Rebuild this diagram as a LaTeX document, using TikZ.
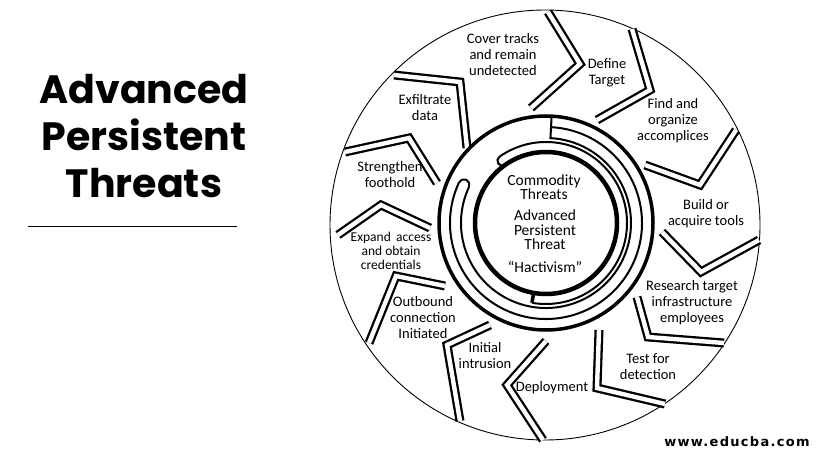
\documentclass[tikz,border=0pt]{standalone}
\usepackage{fontspec}
\setmainfont{Carlito}
\newfontfamily\titlefont{Poppins}
\newfontfamily\urlfont{DejaVu Sans}[LetterSpace=10]
\usetikzlibrary{calc}
\tikzset{
  divider/.style={double, double distance=4.4pt, line width=2.3pt, line join=miter},
  steplabel/.style={align=center, inner sep=0pt, font=\fontsize{14.5}{16}\selectfont},
  corelabel/.style={align=center, inner sep=0pt, font=\fontsize{15.5}{14.5}\selectfont},
  wall/.style={line width=2pt},
  heavy/.style={line width=4.5pt}
}
\begin{document}
\begin{tikzpicture}[x=1pt,y=-1pt]
\useasboundingbox (0,0) rectangle (826,457);
\fill[white] (0,0) rectangle (826,457);

% title
\node[align=center, inner sep=0pt, font=\titlefont\bfseries\fontsize{39.5}{47}\selectfont] (title) at (144,136) {Advanced\\Persistent\\Threats};
\coordinate (ul) at (28,226);
\coordinate (ur) at (237,226);
\draw[line width=1pt] (ul) -- (ur);

% outer circle
\coordinate (o) at (545,225);
\node[circle, draw, line width=0.9pt, minimum size=430pt, inner sep=0pt] (outer) at (o) {};

% dividers
\coordinate (d1o) at (548,12);  \coordinate (d1k) at (580,64);  \coordinate (d1i) at (531,108);
\coordinate (d2o) at (632,29);  \coordinate (d2k) at (650,90);  \coordinate (d2i) at (597,120);
\coordinate (d3o) at (736,130); \coordinate (d3k) at (700,185); \coordinate (d3i) at (645,165);
\coordinate (d4o) at (759,240); \coordinate (d4k) at (701,272); \coordinate (d4i) at (662,232);
\coordinate (d5o) at (724,343); \coordinate (d5k) at (648,337); \coordinate (d5i) at (637,297);
\coordinate (d6o) at (665,404); \coordinate (d6k) at (597,388); \coordinate (d6i) at (599,330);
\coordinate (d7o) at (543,440); \coordinate (d7k) at (507,385); \coordinate (d7i) at (546,341);
\coordinate (d8o) at (460,421); \coordinate (d8k) at (447,345); \coordinate (d8i) at (490,325);
\coordinate (d9o) at (369,343); \coordinate (d9k) at (396,276); \coordinate (d9i) at (445,286);
\coordinate (d10o) at (338,235); \coordinate (d10k) at (381,205); \coordinate (d10i) at (430,228);
\coordinate (d11o) at (345,152); \coordinate (d11k) at (409,138); \coordinate (d11i) at (437,183);
\coordinate (d12o) at (394,75);  \coordinate (d12k) at (460,82);  \coordinate (d12i) at (467,148);
\foreach \i in {1,...,12} {\draw[divider] (d\i o) -- (d\i k) -- (d\i i);}

% core rings
\coordinate (c) at (546,223);
\draw[heavy] (c) circle[radius=71];
\draw[line width=3.5pt] (c) circle[radius=107];
% bar A (inner band, clockwise from top-left to bottom)
\draw[wall] ($(c)+(-125:81)$) arc[start angle=-125, end angle=100, radius=81];
\draw[wall] ($(c)+(-125:81)$) arc[start angle=-125, end angle=-305, radius=5];
\draw[line width=3.5pt] ($(c)+(100:71)$) -- ($(c)+(100:81)$);
% bar B (second band, counter-clockwise from left to top)
\draw[wall] ($(c)+(-155:85)$) arc[start angle=-155, end angle=-447, radius=85];
\draw[wall] ($(c)+(-155:96)$) arc[start angle=-155, end angle=-447, radius=96];
\draw[wall] ($(c)+(-155:96)$) arc[start angle=-155, end angle=25, radius=5.5];
\draw[wall] ($(c)+(-447:84)$) -- ($(c)+(-447:107)$);

% core text
\node[corelabel] (commodity) at (544,187) {Commodity\\Threats};
\node[corelabel] (apt) at (545,230) {Advanced\\Persistent\\Threat};
\node[corelabel] (hact) at (545,267) {``Hactivism''};

% step labels
\node[steplabel] (s1) at (503,55) {Cover tracks\\and remain\\undetected};
\node[steplabel] (s2) at (607,73) {Define\\Target};
\node[steplabel] (s3) at (673,121) {Find and\\organize\\accomplices};
\node[steplabel] (s4) at (706,214) {Build or\\acquire tools};
\node[steplabel] (s5) at (692,303) {Research target\\infrastructure\\employees};
\node[steplabel] (s6) at (648,367) {Test for\\detection};
\node[steplabel] (s7) at (552,388) {Deployment};
\node[steplabel] (s8) at (485,356) {Initial\\intrusion};
\node[steplabel] (s9) at (423,318) {Outbound\\connection\\Initiated};
\node[steplabel, font=\fontsize{13.5}{14}\selectfont] (s10) at (391,251) {Expand\, access\\and obtain\\credentials};
\node[steplabel] (s11) at (390,175) {Strengthen\\foothold};
\node[steplabel] (s12) at (425,108) {Exfiltrate\\data};

% url
\node[inner sep=0pt, font=\urlfont\bfseries\fontsize{13}{15}\selectfont] (url) at (737,442) {www.educba.com};
\end{tikzpicture}
\end{document}
